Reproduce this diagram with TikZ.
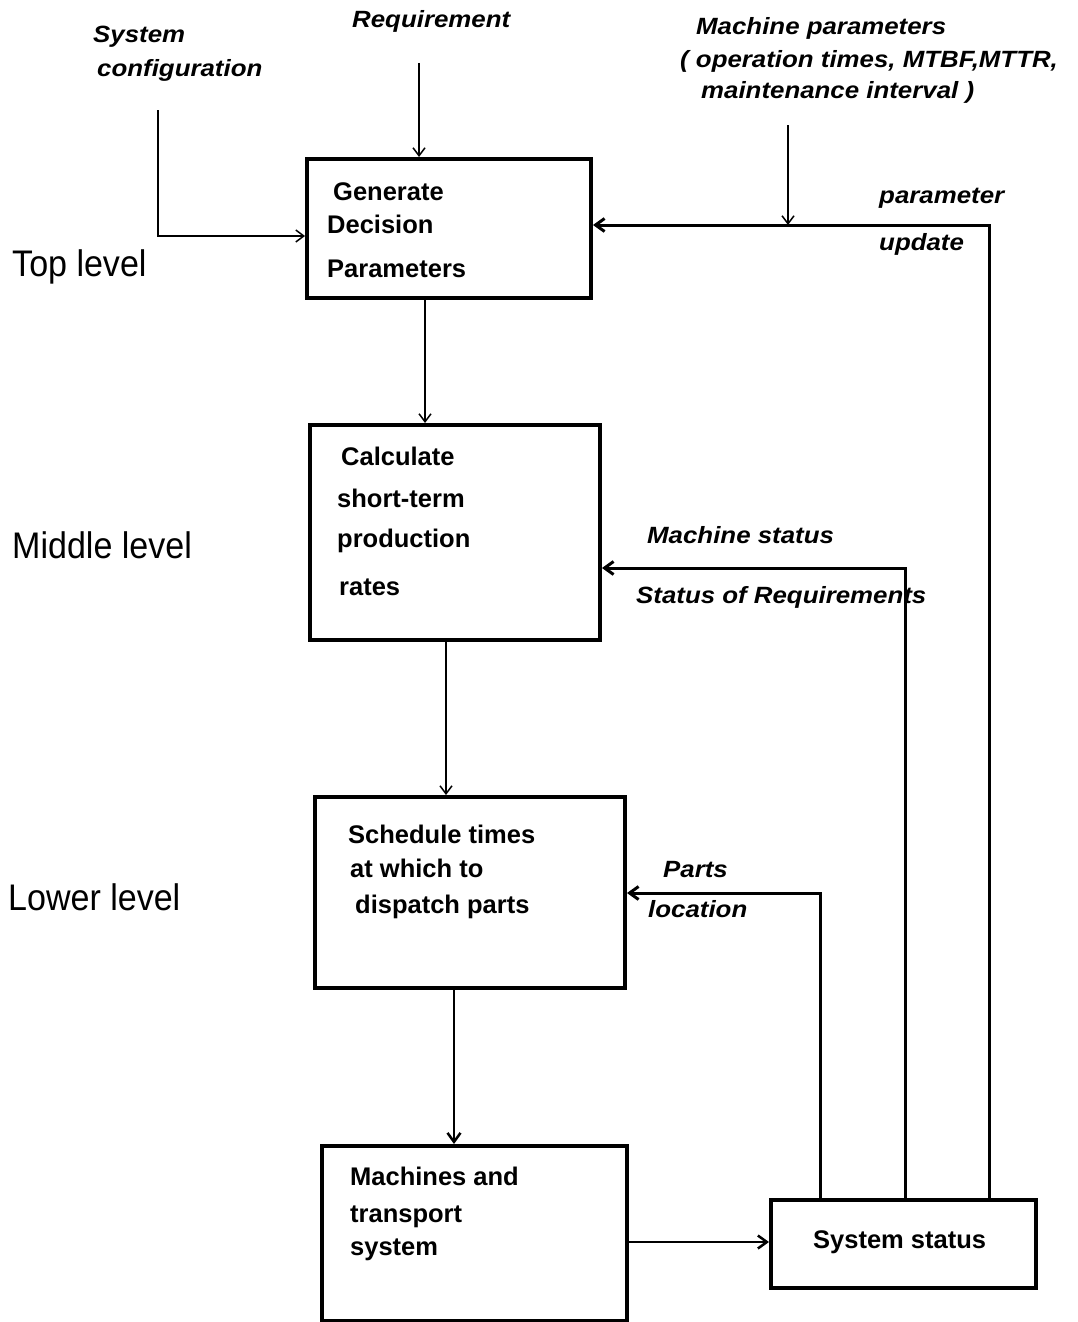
\documentclass[tikz,border=0pt]{standalone}
\usepackage{fontspec}
\usetikzlibrary{arrows.meta,calc}
\newfontfamily\boxfnt{Liberation Sans}
\newfontfamily\labfnt[FakeStretch=1.1]{Liberation Sans}
\newfontfamily\levfnt[FakeStretch=0.92]{Liberation Sans}
\begin{document}
\begin{tikzpicture}[x=1pt,y=-1pt,
  blk/.style={draw,line width=4pt,rectangle,inner sep=0pt},
  btxt/.style={anchor=base west,inner sep=0pt,font=\boxfnt\bfseries\fontsize{25.5}{30}\selectfont},
  ltxt/.style={anchor=base west,inner sep=0pt,font=\labfnt\bfseries\itshape\fontsize{23.5}{28}\selectfont},
  vtxt/.style={anchor=base west,inner sep=0pt,font=\levfnt\fontsize{37}{44}\selectfont},
  thinarr/.style={line width=1.5pt,-{Straight Barb[length=8pt,width=12pt]}},
  fbarr/.style={line width=3pt,-{Straight Barb[length=9pt,width=13pt]}},
  flow/.style={line width=2.5pt,-{Straight Barb[length=9pt,width=13pt]}}]
\useasboundingbox (0,0) rectangle (1077,1322);
\fill[white] (0,0) rectangle (1077,1322);

% boxes
\node[blk,minimum width=284pt,minimum height=139pt] (A) at (449,228.5) {};
\node[blk,minimum width=290pt,minimum height=215pt] (B) at (455,532.5) {};
\node[blk,minimum width=310pt,minimum height=191pt] (C) at (470,892.5) {};
\node[blk,minimum width=305pt,minimum height=175pt] (D) at (474.5,1233.5) {};
\node[blk,minimum width=265pt,minimum height=88pt] (E) at (903.5,1244) {};

% box texts
\node[btxt] (a1) at (333,200) {Generate};
\node[btxt] (a2) at (327,233) {Decision};
\node[btxt] (a3) at (327,277) {Parameters};
\node[btxt] (b1) at (341,465) {Calculate};
\node[btxt] (b2) at (337,507) {short-term};
\node[btxt] (b3) at (337,547) {production};
\node[btxt] (b4) at (339,595) {rates};
\node[btxt] (c1) at (348,843) {Schedule times};
\node[btxt] (c2) at (350,877) {at which to};
\node[btxt] (c3) at (355,913) {dispatch parts};
\node[btxt] (d1) at (350,1185) {Machines and};
\node[btxt] (d2) at (350,1222) {transport};
\node[btxt] (d3) at (350,1255) {system};
\node[btxt] (e1) at (813,1248) {System status};

% level labels
\node[vtxt] (lt) at (12,276) {Top level};
\node[vtxt] (lm) at (12,558) {Middle level};
\node[vtxt] (ll) at (8,910) {Lower level};

% input labels
\node[ltxt] (sc1) at (93,43) {System};
\node[ltxt] (sc2) at (97,77) {configuration};
\node[ltxt] (rq1) at (352,28) {Requirement};
\node[ltxt] (mp1) at (696,35) {Machine parameters};
\node[ltxt] (mp2) at (680,67) {( operation times, MTBF,MTTR,};
\node[ltxt] (mp3) at (701,98) {maintenance interval )};
\node[ltxt] (pu1) at (879,203) {parameter};
\node[ltxt] (pu2) at (879,250) {update};
\node[ltxt] (ms1) at (647,543) {Machine status};
\node[ltxt] (ms2) at (636,603) {Status of Requirements};
\node[ltxt] (pl1) at (663,877) {Parts};
\node[ltxt] (pl2) at (648,917) {location};

% coordinates
\coordinate (scs) at (158,110);
\coordinate (rqs) at (419,63);
\coordinate (mps) at (788,125);
\coordinate (f1) at (989,225);
\coordinate (f2) at (905,568);
\coordinate (f3) at (820,893);

% inputs
\draw[thinarr] (scs) |- ([yshift=-7.5pt]A.west);
\draw[thinarr] (rqs) -- (rqs |- A.north);
\draw[thinarr] (mps) -- (mps |- f1);

% main flow
\draw[thinarr] ([xshift=-24pt]A.south) -- ([xshift=-30pt]B.north);
\draw[thinarr] ([xshift=-9pt]B.south) -- ([xshift=-24pt]C.north);
\draw[flow] ([xshift=-16pt]C.south) -- ([xshift=-20.5pt]D.north);
\draw[flow] ([yshift=-8.5pt]D.east) -- ([yshift=-8.5pt]D.east -| E.west);

% feedback
\draw[fbarr] (E.north -| f1) -- (f1) -- (f1 -| A.east);
\draw[fbarr] (E.north -| f2) -- (f2) -- (f2 -| B.east);
\draw[fbarr] (E.north -| f3) -- (f3) -- (f3 -| C.east);
\end{tikzpicture}
\end{document}
